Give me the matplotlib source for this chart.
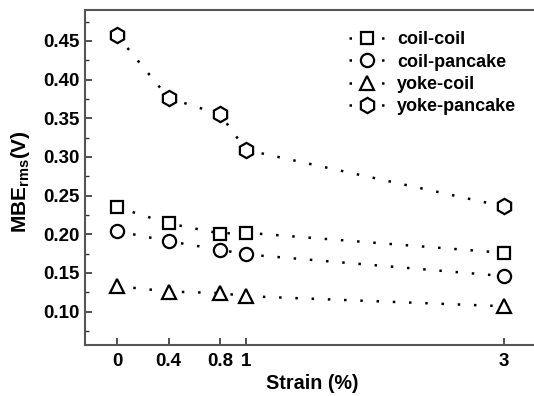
import matplotlib.pyplot as plt
from matplotlib.ticker import MultipleLocator

plt.rcParams['font.family'] = ['Liberation Sans', 'DejaVu Sans']
plt.rcParams['font.weight'] = 'bold'
plt.rcParams['mathtext.default'] = 'bf'

strain = [0, 0.4, 0.8, 1, 3]
coil_coil = [0.235, 0.214, 0.201, 0.202, 0.176]
coil_pancake = [0.204, 0.191, 0.180, 0.174, 0.146]
yoke_coil = [0.133, 0.126, 0.124, 0.120, 0.107]
yoke_pancake = [0.457, 0.376, 0.355, 0.309, 0.236]
tick_labels = ['0', '0.4', '0.8', '1', '3']

fig = plt.figure(figsize=(5.34, 3.96), dpi=100)
ax = fig.add_axes([0.159, 0.129, 0.852, 0.846])

series = [
    (coil_coil, 's', 8.5, 'coil-coil'),
    (coil_pancake, 'o', 9.5, 'coil-pancake'),
    (yoke_coil, '^', 10.5, 'yoke-coil'),
    (yoke_pancake, 'h', 11, 'yoke-pancake'),
]
for vals, m, ms, lab in series:
    ax.plot(strain, vals, linestyle=(0, (1, 5.5)), lw=1.8, color='black',
            marker=m, markersize=ms, markerfacecolor='white',
            markeredgecolor='black', markeredgewidth=1.6, label=lab)

ax.set_xlim(-0.25, 3.28)
ax.set_ylim(0.057, 0.49)
ax.set_xticks(strain)
ax.set_xticklabels(tick_labels)
ax.yaxis.set_major_locator(MultipleLocator(0.05))
ax.yaxis.set_minor_locator(MultipleLocator(0.025))
ax.yaxis.set_major_formatter(plt.FormatStrFormatter('%.2f'))

ax.tick_params(axis='both', which='major', direction='in', length=5, width=1.2,
               labelsize=13.5, color='#333333')
ax.tick_params(axis='x', which='major', pad=6)
ax.tick_params(axis='y', which='minor', direction='in', length=3, width=1.0,
               color='#333333')
for s in ax.spines.values():
    s.set_linewidth(1.5)
    s.set_color('#555555')

ax.set_xlabel('Strain (%)', fontsize=14.2, fontweight='bold', labelpad=3)
ax.set_ylabel(r'MBE$_{\mathregular{rms}}$(V)', fontsize=15, fontweight='bold')
ax.yaxis.set_label_coords(-0.116, 0.488)

leg = ax.legend(loc='upper left', bbox_to_anchor=(0.545, 0.985), frameon=False,
                fontsize=13, handlelength=2.0, handletextpad=0.65,
                labelspacing=0.3)

fig.savefig('out.png', dpi=100)
